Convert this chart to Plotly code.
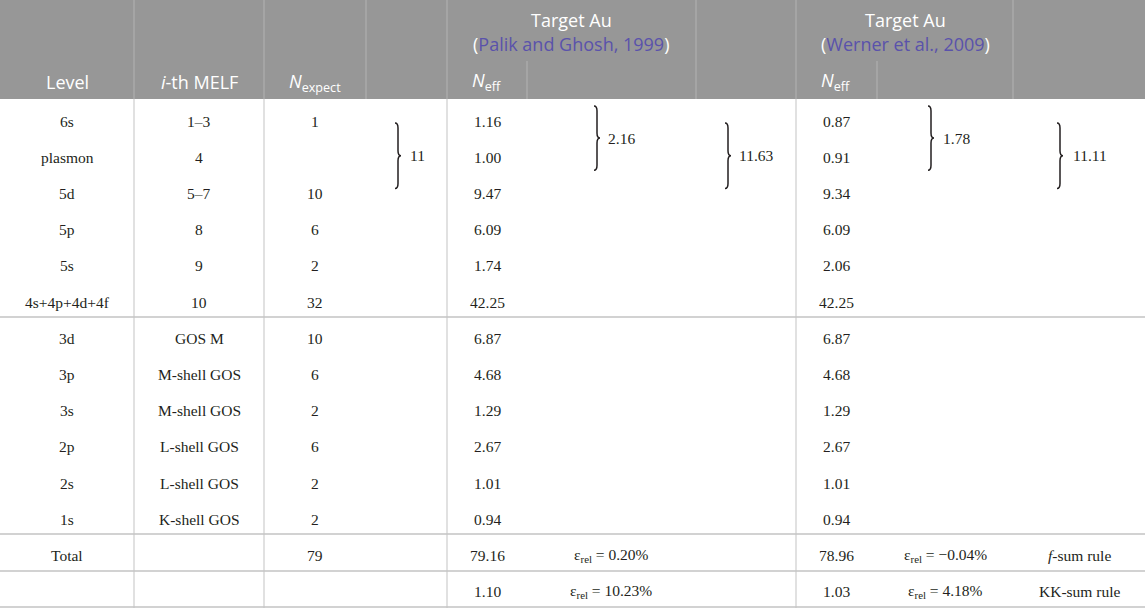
import plotly.graph_objects as go

# table content
levels = ["6s", "plasmon", "5d", "5p", "5s", "4s+4p+4d+4f",
          "3d", "3p", "3s", "2p", "2s", "1s", "Total", ""]
melf = ["1–3", "4", "5–7", "8", "9", "10", "GOS M", "M-shell GOS", "M-shell GOS",
        "L-shell GOS", "L-shell GOS", "K-shell GOS", "", ""]
n_expect = ["1", "", "10", "6", "2", "32", "10", "6", "2", "6", "2", "2", "79", ""]
palik_neff = ["1.16", "1.00", "9.47", "6.09", "1.74", "42.25", "6.87", "4.68",
              "1.29", "2.67", "1.01", "0.94", "79.16", "1.10"]
werner_neff = ["0.87", "0.91", "9.34", "6.09", "2.06", "42.25", "6.87", "4.68",
               "1.29", "2.67", "1.01", "0.94", "78.96", "1.03"]
palik_err = ["0.20%", "10.23%"]
werner_err = ["−0.04%", "4.18%"]
sum_rules = ["<i>f</i>-sum rule", "KK-sum rule"]

# grouped sums: (first row, last row, value)
n_expect_groups = [(0, 2, "11")]
palik_groups = [(0, 1, "2.16"), (0, 2, "11.63")]
werner_groups = [(0, 1, "1.78"), (0, 2, "11.11")]

refs = ["Palik and Ghosh, 1999", "Werner et al., 2009"]

W, H = 1145, 608
HEAD_H = 99
ROW0, DY = 121, 36.2
rows_y = [ROW0 + i * DY for i in range(len(levels))]

HEAD_BG = "#979797"
HEAD_LINE = "#b3b3b3"
BODY_LINE = "#c3c3c3"
TXT = "#231f20"
LINK = "#5a52ab"
SANS = "Open Sans"
SERIF = "Liberation Serif"

fig = go.Figure()
shapes = []
ann = []

# header background
shapes.append(dict(type="rect", x0=0, x1=W, y0=0, y1=HEAD_H, fillcolor=HEAD_BG,
                   line=dict(width=0), layer="below"))
# header vertical lines
for x in [134, 264, 366, 447, 696, 796, 1013]:
    shapes.append(dict(type="line", x0=x, x1=x, y0=0, y1=HEAD_H,
                       line=dict(color=HEAD_LINE, width=1)))
for x in [527, 877]:
    shapes.append(dict(type="line", x0=x, x1=x, y0=61, y1=HEAD_H,
                       line=dict(color=HEAD_LINE, width=1)))
# body vertical lines
for x in [134, 264, 447, 796]:
    shapes.append(dict(type="line", x0=x, x1=x, y0=HEAD_H, y1=H,
                       line=dict(color=BODY_LINE, width=1)))
# body horizontal lines
for y in [317, 534, 571, 607]:
    shapes.append(dict(type="line", x0=0, x1=W, y0=y, y1=y,
                       line=dict(color=BODY_LINE, width=1.5)))


def head(x, y, text, size=18):
    ann.append(dict(x=x, y=y, text=text, showarrow=False, xanchor="center",
                    yanchor="middle", font=dict(family=SANS, size=size, color="white")))


def cell(x, y, text, anchor="center"):
    if not text:
        return
    ann.append(dict(x=x, y=y, text=text, showarrow=False, xanchor=anchor,
                    yanchor="middle", font=dict(family=SERIF, size=15.5, color=TXT)))


def brace(x, y_top, y_bot, w=6, r=5):
    ym = (y_top + y_bot) / 2
    xm = x + w / 2
    path = (f"M {x},{y_top} Q {xm},{y_top} {xm},{y_top + r} L {xm},{ym - r} "
            f"Q {xm},{ym} {x + w},{ym} Q {xm},{ym} {xm},{ym + r} "
            f"L {xm},{y_bot - r} Q {xm},{y_bot} {x},{y_bot}")
    shapes.append(dict(type="path", path=path, line=dict(color=TXT, width=1.5)))
    return ym


# header text
head(67, 82, "Level")
head(199, 82, "<i>i</i>-th MELF")
head(315, 82, "<i>N</i><sub>expect</sub>")
head(487, 81, "<i>N</i><sub>eff</sub>")
head(836, 81, "<i>N</i><sub>eff</sub>")
for xc, ref in zip([571, 905], refs):
    head(xc, 20, "Target Au")
    head(xc, 44, f"(<span style='color:{LINK}'>{ref}</span>)")

# body cells
for i, y in enumerate(rows_y):
    cell(67, y, levels[i])
    cell(199, y, melf[i])
    cell(315, y, n_expect[i])
    cell(487, y, palik_neff[i])
    cell(836, y, werner_neff[i])

# error rows
for k in range(2):
    y = rows_y[12 + k]
    cell(611, y, f"ε<sub>rel</sub> = {palik_err[k]}")
    cell(945, y, f"ε<sub>rel</sub> = {werner_err[k]}")
    cell(1079, y, sum_rules[k])


def group_braces(groups, xs):
    for (a, b, val), (bx, tx) in zip(groups, xs):
        top = rows_y[a] - 15 if b - a == 1 else rows_y[a] + 2
        bot = rows_y[b] + 13 if b - a == 1 else rows_y[b] - 5
        ym = brace(bx, top, bot)
        cell(tx, ym, val, anchor="left")


group_braces(n_expect_groups, [(395, 408)])
group_braces(palik_groups, [(594, 606), (725, 737)])
group_braces(werner_groups, [(928, 941), (1057, 1071)])

fig.update_layout(
    width=W, height=H, margin=dict(l=0, r=0, t=0, b=0),
    paper_bgcolor="white", plot_bgcolor="white",
    xaxis=dict(range=[0, W], visible=False, fixedrange=True),
    yaxis=dict(range=[H, 0], visible=False, fixedrange=True),
    shapes=shapes, annotations=ann, showlegend=False, hovermode=False,
)
fig.write_html("out.html", config=dict(displayModeBar=False),
               post_script="document.body.style.margin='0';")
